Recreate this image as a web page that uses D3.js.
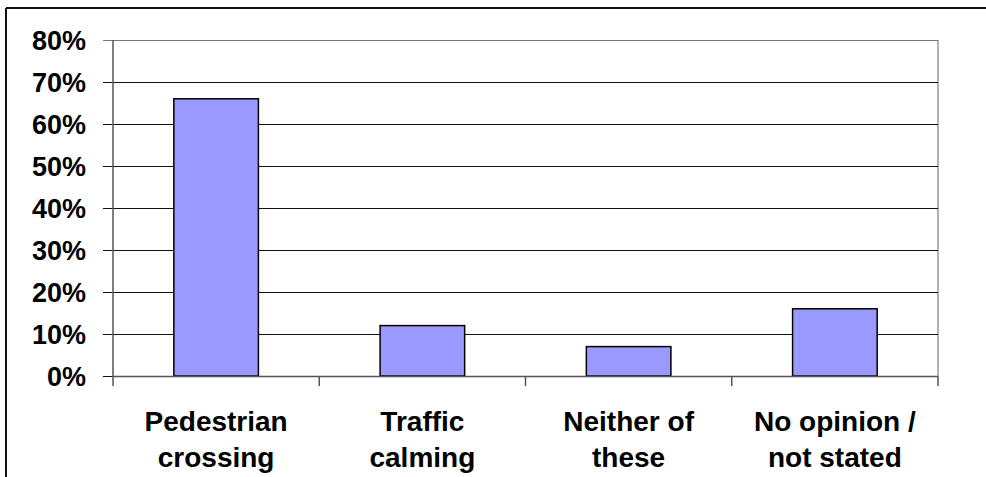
<!DOCTYPE html>
<html>
<head>
<meta charset="utf-8">
<script src="https://cdn.jsdelivr.net/npm/d3@7"></script>
<style>
html,body{margin:0;padding:0;background:#fff;}
svg{display:block;}
text{font-family:"Liberation Sans",Arial,sans-serif;font-weight:bold;fill:#000;}
</style>
</head>
<body>
<svg id="chart" width="986" height="477"></svg>
<script>
const categories = [["Pedestrian","crossing"],["Traffic","calming"],["Neither of","these"],["No opinion /","not stated"]];
const values = [0.66, 0.12, 0.07, 0.16];
const yTicks = [0,0.1,0.2,0.3,0.4,0.5,0.6,0.7,0.8];

const svg = d3.select("#chart");
const L = 113, R = 938, T = 40, B = 376;

// outer frame (top and left visible)
svg.append("line").attr("x1",6).attr("x2",986).attr("y1",8).attr("y2",8).attr("stroke","#111").attr("stroke-width",2);
svg.append("line").attr("x1",6).attr("x2",6).attr("y1",8).attr("y2",477).attr("stroke","#111").attr("stroke-width",2);

const x = d3.scaleBand().domain(d3.range(categories.length)).range([L,R]).paddingInner(0.59).paddingOuter(0.295);
const xOuter = d3.scaleBand().domain(d3.range(categories.length)).range([L,R]);
const y = d3.scaleLinear().domain([0,0.8]).range([B,T]);

// plot area right border
svg.append("line").attr("x1",R).attr("x2",R).attr("y1",T).attr("y2",B).attr("stroke","#888").attr("stroke-width",1.3);

// gridlines
svg.append("g").selectAll("line").data(yTicks).join("line")
  .attr("x1",L-10).attr("x2",R).attr("y1",d=>Math.round(y(d))+0.5).attr("y2",d=>Math.round(y(d))+0.5)
  .attr("stroke",d=>d===0.8?"#777":"#111").attr("stroke-width",1);

// y labels
svg.append("g").selectAll("text").data(yTicks).join("text")
  .attr("x",86).attr("y",d=>y(d)).attr("dy","0.36em").attr("text-anchor","end")
  .attr("font-size",27).text(d3.format(".0%"));

// bars
svg.append("g").selectAll("rect").data(values).join("rect")
  .attr("x",(d,i)=>x(i)).attr("width",x.bandwidth())
  .attr("y",d=>y(d)).attr("height",d=>B-y(d))
  .attr("fill","#9999FF").attr("stroke","#000").attr("stroke-width",1.5);

// x axis
svg.append("line").attr("x1",L).attr("x2",R).attr("y1",B+0.5).attr("y2",B+0.5).attr("stroke","#555").attr("stroke-width",1.5);
svg.append("line").attr("x1",L).attr("x2",L).attr("y1",T).attr("y2",B+10).attr("stroke","#555").attr("stroke-width",1.5);
svg.append("g").selectAll("line").data(d3.range(1,categories.length+1)).join("line")
  .attr("x1",i=>i<categories.length?xOuter(i):R).attr("x2",i=>i<categories.length?xOuter(i):R)
  .attr("y1",B).attr("y2",B+10).attr("stroke","#555").attr("stroke-width",1.5);

// category labels
const lab = svg.append("g").selectAll("text").data(categories).join("text")
  .attr("text-anchor","middle").attr("font-size",28);
lab.each(function(d,i){
  const t = d3.select(this);
  const cx = xOuter(i)+xOuter.bandwidth()/2;
  d.forEach((s,k)=>t.append("tspan").attr("x",cx).attr("y",431+k*36).text(s));
});
</script>
</body>
</html>
